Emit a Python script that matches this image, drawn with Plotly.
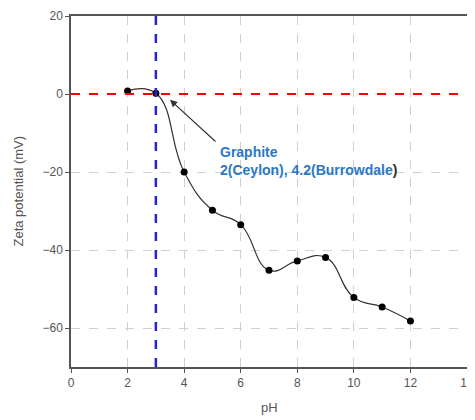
import plotly.graph_objects as go

ph = [2, 3, 4, 5, 6, 7, 8, 9, 10, 11, 12]
zeta = [0.8, 0.2, -20.0, -29.8, -33.5, -45.2, -42.8, -41.9, -52.2, -54.6, -58.2]
iep_ph = 3
zero_level = 0
x_ticks = [0, 2, 4, 6, 8, 10, 12, 14]
y_ticks = [20, 0, -20, -40, -60]

FONT = "Liberation Sans, Arial"

fig = go.Figure()
fig.add_trace(go.Scatter(
    x=ph, y=zeta, mode="lines+markers",
    line=dict(color="#333333", width=1.2, shape="spline", smoothing=1.3),
    marker=dict(color="black", size=7),
    hoverinfo="skip", showlegend=False,
))

fig.add_shape(type="line", xref="paper", yref="y", x0=0, x1=1, y0=zero_level, y1=zero_level,
              line=dict(color="red", width=2, dash="dash"), layer="above")
fig.add_shape(type="line", xref="x", yref="paper", x0=iep_ph, x1=iep_ph, y0=0, y1=1,
              line=dict(color="#2626c8", width=2.5, dash="dash"), layer="above")

fig.add_annotation(
    x=3.5, y=-1.5, xref="x", yref="y",
    ax=47, ay=43, axref="pixel", ayref="pixel",
    showarrow=True, arrowhead=2, arrowsize=1.2, arrowwidth=1.2, arrowcolor="#333333",
    text="",
)
fig.add_annotation(
    x=5.2, y=-12.3, xref="x", yref="y", xanchor="left", yanchor="top",
    showarrow=False, align="left",
    text="<b>Graphite<br>2(Ceylon), 4.2(Burrowdale<span style='color:#3a2a10'>)</span></b>",
    font=dict(family=FONT, size=14, color="#2a78c4"),
)

axis_common = dict(
    showline=True, linecolor="#555555", linewidth=1.5, mirror=True,
    showgrid=True, gridcolor="#d0d0d0", griddash="dash", gridwidth=1,
    zeroline=False, ticks="outside", ticklen=4, tickcolor="#555555",
    tickfont=dict(family=FONT, size=12, color="#555555"),
    automargin=False,
)

fig.update_xaxes(range=[0, 14], tickvals=x_ticks, **axis_common)
fig.update_yaxes(range=[-70, 20], tickvals=y_ticks, **axis_common)

fig.add_annotation(x=0.5, y=0, xref="paper", yref="paper", xanchor="center", yanchor="middle",
                   yshift=-40, showarrow=False, text="pH",
                   font=dict(family=FONT, size=13, color="#555555"))
fig.add_annotation(x=0, y=0.5, xref="paper", yref="paper", xanchor="center", yanchor="middle",
                   xshift=-53, showarrow=False, text="Zeta potential (mV)", textangle=-90,
                   font=dict(family=FONT, size=13, color="#555555"))

fig.update_layout(
    width=475, height=420,
    margin=dict(l=63, r=16, t=8, b=61),
    plot_bgcolor="white", paper_bgcolor="white",
)

fig.write_html("out.html")
